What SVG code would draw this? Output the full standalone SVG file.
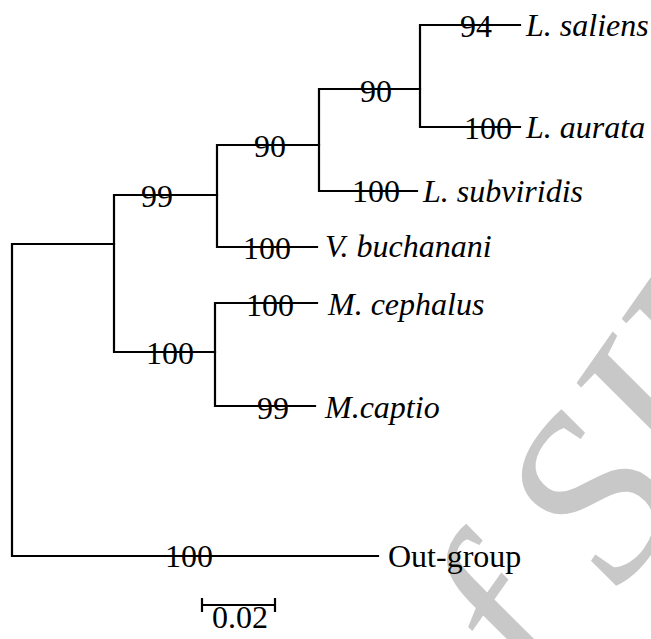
<svg xmlns="http://www.w3.org/2000/svg" width="651" height="639" viewBox="0 0 651 639">
<style>
.br{stroke:#000;stroke-width:2.2;fill:none;stroke-linecap:square}
.bs{font-family:"Liberation Serif","Times New Roman",serif;font-size:32px;fill:#000;text-anchor:middle}
.tx{font-family:"Liberation Serif","Times New Roman",serif;font-size:32px;font-style:italic;fill:#000}
.og{font-family:"Liberation Serif","Times New Roman",serif;font-size:32px;fill:#000}
.wm{font-family:"Liberation Serif","Times New Roman",serif;font-size:240px;font-style:italic;fill:#c8c8c8}
</style>
<rect width="651" height="639" fill="#fff"/>
<text class="wm" transform="translate(480,795) rotate(-55)">of SID</text>
<g id="connectors">
<path class="br" d="M12,244V556M12,244H114M12,556H378"/>
<path class="br" d="M114,195V352M114,195H217M114,352H215"/>
<path class="br" d="M217,145V247M217,145H319M217,247H317"/>
<path class="br" d="M319,89V191M319,89H420M319,191H417"/>
<path class="br" d="M420,25V127M420,25H520M420,127H520"/>
<path class="br" d="M215,303V406M215,303H317M215,406H315"/>
</g>
<g id="bootstrap">
<text class="bs" x="189" y="567">100</text>
<text class="bs" x="157" y="207">99</text>
<text class="bs" x="170" y="364">100</text>
<text class="bs" x="270" y="157">90</text>
<text class="bs" x="267" y="259">100</text>
<text class="bs" x="376" y="102">90</text>
<text class="bs" x="376" y="202">100</text>
<text class="bs" x="476" y="37">94</text>
<text class="bs" x="488" y="139">100</text>
<text class="bs" x="270" y="316">100</text>
<text class="bs" x="273" y="419">99</text>
</g>
<g id="leaf-saliens"><text class="tx" x="526" y="36">L. saliens</text></g>
<g id="leaf-aurata"><text class="tx" x="526" y="138">L. aurata</text></g>
<g id="leaf-subviridis"><text class="tx" x="423" y="202">L. subviridis</text></g>
<g id="leaf-buchanani"><text class="tx" x="325" y="257">V. buchanani</text></g>
<g id="leaf-cephalus"><text class="tx" x="328" y="315">M. cephalus</text></g>
<g id="leaf-captio"><text class="tx" x="325" y="418">M.captio</text></g>
<g id="leaf-outgroup"><text class="og" x="388" y="567">Out-group</text></g>
<g id="scalebar">
<path class="br" d="M202,605H275M202,598V612M275,598V612" style="stroke-linecap:butt"/>
<text class="bs" x="240" y="628">0.02</text>
</g>
</svg>
